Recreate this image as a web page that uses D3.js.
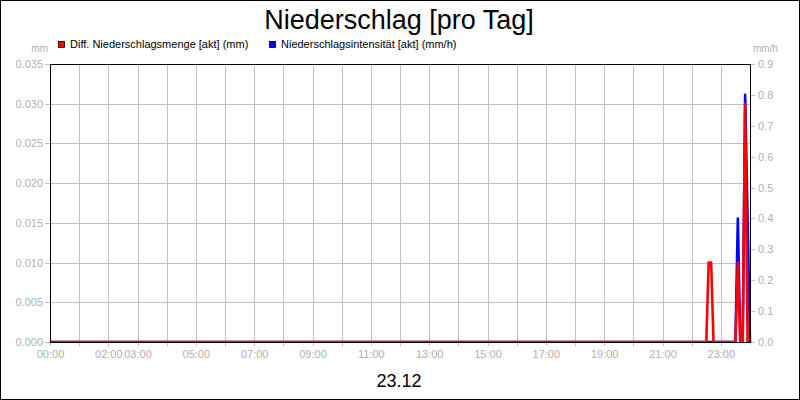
<!DOCTYPE html>
<html>
<head>
<meta charset="utf-8">
<script src="https://cdn.jsdelivr.net/npm/d3@7"></script>
<style>
  body { margin: 0; background: #fff; }
  svg { display: block; }
  text { font-family: "Liberation Sans", Arial, sans-serif; }
</style>
</head>
<body>
<svg id="chart" width="800" height="400"></svg>
<script>
// Chart data
const chartTitle = "Niederschlag [pro Tag]";
const dayLabel = "23.12";
const seriesNames = ["Diff. Niederschlagsmenge [akt] (mm)", "Niederschlagsintensität [akt] (mm/h)"];
const seriesColors = ["#ff0000", "#0000ff"];
const leftUnit = "mm";
const rightUnit = "mm/h";

// Precipitation amount per interval (mm, left axis)
const mengeTimes  = ["00:00", "22:30", "22:35", "22:40", "22:45", "23:30", "23:35", "23:40", "23:45", "23:50", "23:55"];
const mengeValues = [0, 0, 0.010, 0.010, 0, 0, 0.010, 0, 0, 0.030, 0];

// Precipitation intensity (mm/h, right axis)
const intensTimes  = ["00:00", "23:30", "23:35", "23:40", "23:45", "23:50", "24:00"];
const intensValues = [0, 0, 0.4, 0, 0, 0.8, 0];

const xTickLabels = ["00:00", "02:00", "03:00", "05:00", "07:00", "09:00", "11:00",
                     "13:00", "15:00", "17:00", "19:00", "21:00", "23:00"];
const leftTicks  = [0, 0.005, 0.010, 0.015, 0.020, 0.025, 0.030, 0.035];
const rightTicks = [0, 0.1, 0.2, 0.3, 0.4, 0.5, 0.6, 0.7, 0.8, 0.9];

// Layout
const W = 800, H = 400;
const plot = { left: 50, right: 750, top: 64, bottom: 342 };
const gridColor = "#c0c0c0";
const labelColor = "#b0b0b0";

const toDate = s => {
  const [h, m] = s.split(":").map(Number);
  return new Date(Date.UTC(2023, 11, 23, h, m));
};

const svg = d3.select("#chart");

const x = d3.scaleUtc()
  .domain([toDate("00:00"), toDate("24:00")])
  .range([plot.left, plot.right]);
const yL = d3.scaleLinear().domain([0, 0.035]).range([plot.bottom, plot.top]);
const yR = d3.scaleLinear().domain([0, 0.9]).range([plot.bottom, plot.top]);

// Outer frame
svg.append("rect")
  .attr("x", 0.5).attr("y", 0.5).attr("width", W - 1).attr("height", H - 1)
  .attr("fill", "#fff").attr("stroke", "#000");

// Title
svg.append("text")
  .attr("x", 399).attr("y", 29)
  .attr("text-anchor", "middle")
  .attr("font-size", 27)
  .attr("fill", "#000")
  .text(chartTitle);

// Legend
const legendX = [58, 269];
seriesNames.forEach((name, i) => {
  svg.append("rect")
    .attr("x", legendX[i] + 0.5).attr("y", 41.5)
    .attr("width", 6).attr("height", 6)
    .attr("fill", seriesColors[i]).attr("stroke", "#000").attr("stroke-width", 0.8);
  svg.append("text")
    .attr("x", legendX[i] + 12).attr("y", 48)
    .attr("font-size", 11).attr("fill", "#000")
    .text(name);
});

// Unit labels
svg.append("text").attr("x", 48).attr("y", 52).attr("text-anchor", "end")
  .attr("font-size", 10).attr("fill", labelColor).text(leftUnit);
svg.append("text").attr("x", 753).attr("y", 52).attr("text-anchor", "start")
  .attr("font-size", 10).attr("fill", labelColor).text(rightUnit);

// Horizontal grid from the left axis ticks
svg.append("g")
  .attr("transform", `translate(${plot.left},0)`)
  .call(d3.axisLeft(yL).tickValues(leftTicks).tickSize(-(plot.right - plot.left)).tickFormat(""))
  .call(g => g.select(".domain").remove())
  .call(g => g.selectAll("line").attr("stroke", gridColor).attr("shape-rendering", "crispEdges"));

// Vertical hourly grid, reaching a little below the plot
const hourTicks = x.ticks(d3.utcHour.every(1)).filter(d => +d < +x.domain()[1]);
svg.append("g")
  .attr("transform", `translate(0,${plot.bottom + 4})`)
  .call(d3.axisBottom(x).tickValues(hourTicks).tickSize(-(plot.bottom + 4 - plot.top)).tickFormat(""))
  .call(g => g.select(".domain").remove())
  .call(g => g.selectAll("line").attr("stroke", gridColor).attr("shape-rendering", "crispEdges"));

// Left axis
svg.append("g")
  .attr("transform", `translate(${plot.left},0)`)
  .call(d3.axisLeft(yL).tickValues(leftTicks).tickFormat(d3.format(".3f")).tickSize(5).tickPadding(2))
  .call(g => g.select(".domain").remove())
  .call(g => g.selectAll("line").attr("stroke", gridColor).attr("shape-rendering", "crispEdges"))
  .call(g => g.selectAll("text").attr("fill", labelColor).attr("font-size", 11)
    .attr("font-family", "\"Liberation Sans\", Arial, sans-serif"));

// Right axis
svg.append("g")
  .attr("transform", `translate(${plot.right},0)`)
  .call(d3.axisRight(yR).tickValues(rightTicks).tickFormat(d3.format(".1f")).tickSize(5).tickPadding(3))
  .call(g => g.select(".domain").remove())
  .call(g => g.selectAll("line").attr("stroke", gridColor).attr("shape-rendering", "crispEdges"))
  .call(g => g.selectAll("text").attr("fill", labelColor).attr("font-size", 11)
    .attr("font-family", "\"Liberation Sans\", Arial, sans-serif"));

// Bottom axis labels
const fmtHour = d3.utcFormat("%H:%M");
svg.append("g")
  .attr("transform", `translate(0,${plot.bottom})`)
  .call(d3.axisBottom(x).tickValues(xTickLabels.map(toDate)).tickFormat(fmtHour).tickSize(0).tickPadding(8))
  .call(g => g.select(".domain").remove())
  .call(g => g.selectAll("text").attr("fill", labelColor).attr("font-size", 11)
    .attr("font-family", "\"Liberation Sans\", Arial, sans-serif"));

// Series lines, clipped to the plot height
svg.append("clipPath").attr("id", "plotClip")
  .append("rect")
  .attr("x", plot.left).attr("y", plot.top)
  .attr("width", plot.right - plot.left + 4).attr("height", plot.bottom - plot.top);

const lines = svg.append("g").attr("clip-path", "url(#plotClip)");

const intensData = intensTimes.map((t, i) => ({ t: toDate(t), v: intensValues[i] }));
const mengeData  = mengeTimes.map((t, i) => ({ t: toDate(t), v: mengeValues[i] }));

lines.append("path")
  .datum(intensData)
  .attr("fill", "none")
  .attr("stroke", seriesColors[1])
  .attr("stroke-width", 2.6)
  .attr("stroke-linejoin", "round")
  .attr("d", d3.line().x(d => x(d.t)).y(d => yR(d.v)));

lines.append("path")
  .datum(mengeData)
  .attr("fill", "none")
  .attr("stroke", seriesColors[0])
  .attr("stroke-width", 2.6)
  .attr("stroke-linejoin", "round")
  .attr("d", d3.line().x(d => x(d.t)).y(d => yL(d.v)));

// Plot frame
svg.append("rect")
  .attr("x", plot.left + 0.5).attr("y", plot.top + 0.5)
  .attr("width", plot.right - plot.left).attr("height", plot.bottom - plot.top)
  .attr("fill", "none").attr("stroke", "#000").attr("shape-rendering", "crispEdges");

// Day label
svg.append("text")
  .attr("x", 399).attr("y", 387)
  .attr("text-anchor", "middle")
  .attr("font-size", 18)
  .attr("fill", "#000")
  .text(dayLabel);
</script>
</body>
</html>
